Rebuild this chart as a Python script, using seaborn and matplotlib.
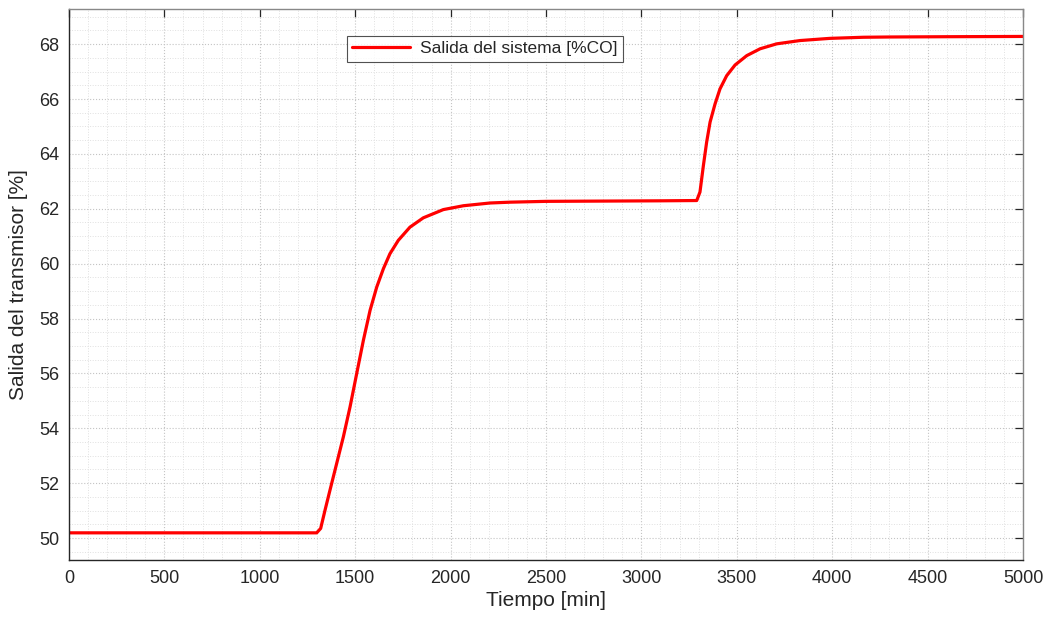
import matplotlib
matplotlib.use("Agg")
import matplotlib.pyplot as plt
import seaborn as sns
import pandas as pd
from matplotlib.ticker import MultipleLocator

tiempo = [0, 1298, 1319, 1342, 1368, 1403, 1438, 1473, 1508, 1543, 1578, 1613, 1648, 1682,
          1726, 1787, 1857, 1962, 2067, 2206, 2311, 2500, 2800, 3100, 3290,
          3307, 3325, 3342, 3360, 3386, 3412, 3447, 3491, 3552, 3622, 3709, 3831, 3988,
          4163, 4303, 4600, 5000]
salida = [50.19, 50.19, 50.35, 51.02, 51.75, 52.72, 53.69, 54.78, 56.0, 57.21, 58.3, 59.15, 59.82, 60.36,
          60.85, 61.33, 61.67, 61.97, 62.11, 62.21, 62.24, 62.27, 62.28, 62.29, 62.3,
          62.61, 63.58, 64.43, 65.16, 65.82, 66.37, 66.85, 67.24, 67.58, 67.83, 68.01, 68.13, 68.21,
          68.25, 68.26, 68.27, 68.28]

df = pd.DataFrame({"Tiempo": tiempo, "Salida": salida})

sns.set_style("white")
plt.rcParams['font.family'] = ['Liberation Sans', 'DejaVu Sans']

fig = plt.figure(figsize=(10.52, 6.24), dpi=100)
ax = fig.add_axes([69/1052, 64/624, 954/1052, 551/624])

sns.lineplot(data=df, x="Tiempo", y="Salida", ax=ax, color=(1, 0, 0), linewidth=2.3,
             label="Salida del sistema [%CO]", solid_joinstyle="round", solid_capstyle="round")

ax.set_xlim(0, 5000)
ax.set_ylim(49.2, 69.28)
ax.xaxis.set_major_locator(MultipleLocator(500))
ax.xaxis.set_minor_locator(MultipleLocator(100))
ax.yaxis.set_major_locator(MultipleLocator(2))
ax.yaxis.set_minor_locator(MultipleLocator(0.5))

ax.grid(True, which="major", linestyle=":", color="#c4c4c4", linewidth=0.8)
ax.grid(True, which="minor", linestyle=":", color="#e0e0e0", linewidth=0.7)
ax.set_axisbelow(True)

for s in ax.spines.values():
    s.set_color("#262626")
    s.set_linewidth(1.0)
    s.set_visible(True)
ax.spines["top"].set_color("#888888")
ax.spines["right"].set_color("#888888")

ax.tick_params(which="major", direction="in", length=6, width=0.9, color="#262626",
               top=True, right=True, labelsize=13, labelcolor="#262626", pad=7)
ax.tick_params(which="minor", length=0)

ax.set_xlabel("Tiempo [min]", fontsize=15, color="#262626", labelpad=3)
ax.set_ylabel("Salida del transmisor [%]", fontsize=15, color="#262626", labelpad=8)

leg = ax.legend(loc="upper left", bbox_to_anchor=((347-69)/954, (560-36)/551),
                fontsize=12.5, frameon=True, fancybox=False, handlelength=3.3,
                borderpad=0.3, handletextpad=0.6, borderaxespad=0)
leg.get_frame().set_edgecolor("#262626")
leg.get_frame().set_linewidth(0.8)

fig.savefig("out.png", dpi=100)
